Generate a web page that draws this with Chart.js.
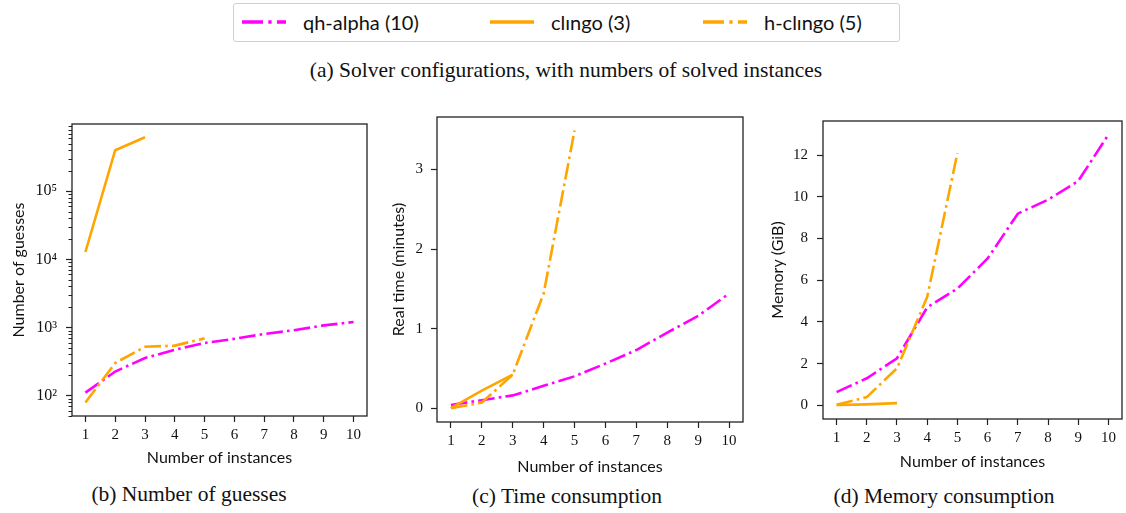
<!DOCTYPE html>
<html>
<head>
<meta charset="utf-8">
<script src="https://cdn.jsdelivr.net/npm/chart.js@4.4.0/dist/chart.umd.min.js"></script>
<style>
	body { margin: 0; width: 1126px; height: 513px; background: #fff; position: relative; overflow: hidden; }
	.abs { position: absolute; }
	#legend { left: 233px; top: 3px; width: 665px; height: 37px; border: 1px solid #d0d0d0; border-radius: 3px; }
	.item { position: absolute; top: 0; height: 36px; display: flex; align-items: center; font-family: Lato, sans-serif; font-size: 20px; color: #111; }
	.item svg { margin-right: 17px; }
	.cap { font-family: "Liberation Serif", serif; font-size: 21.5px; line-height: 24px; color: #111; text-align: center; white-space: nowrap; transform: translateX(-50%); }
</style>
</head>
<body>

<div id="legend" class="abs">
	<div class="item" style="left:8px"><svg width="44" height="8"><line x1="0" y1="4" x2="44" y2="4" stroke="#ff00ff" stroke-width="3.3" stroke-dasharray="21 5.3 3.3 5.3"/></svg>qh-alpha (10)</div>
	<div class="item" style="left:256px"><svg width="44" height="8"><line x1="0" y1="4" x2="44" y2="4" stroke="#ffa500" stroke-width="3.3"/></svg>clıngo (3)</div>
	<div class="item" style="left:469px"><svg width="44" height="8"><line x1="0" y1="4" x2="44" y2="4" stroke="#ffa500" stroke-width="3.3" stroke-dasharray="21 5.3 3.3 5.3"/></svg>h-clıngo (5)</div>
</div>
<div class="abs cap" style="left:566px; top:58px">(a) Solver configurations, with numbers of solved instances</div>

<div class="abs" style="left:0px; top:110px; width:372px; height:362px"><canvas id="chartGuesses"></canvas></div>
<div class="abs" style="left:380px; top:105px; width:368px; height:375px"><canvas id="chartTime"></canvas></div>
<div class="abs" style="left:750px; top:110px; width:376px; height:365px"><canvas id="chartMem"></canvas></div>

<div class="abs cap" style="left:189px; top:482px">(b) Number of guesses</div>
<div class="abs cap" style="left:567px; top:484px">(c) Time consumption</div>
<div class="abs cap" style="left:944px; top:484px">(d) Memory consumption</div>

<script>
	// data
	var instances = [1, 2, 3, 4, 5, 6, 7, 8, 9, 10];
	var xTicks = [1, 2, 3, 4, 5, 6, 7, 8, 9, 10];

	var guessesQh = [110, 225, 355, 470, 590, 680, 800, 910, 1070, 1200];
	var guessesClingo = [12800, 400000, 620000];
	var guessesHClingo = [79, 300, 520, 540, 690];
	var guessTicks = [100, 1000, 10000, 100000];
	var guessTickLabels = ['10²', '10³', '10⁴', '10⁵'];

	var timeQh = [0.04, 0.1, 0.16, 0.28, 0.4, 0.56, 0.73, 0.95, 1.16, 1.44];
	var timeClingo = [0, 0.22, 0.42];
	var timeHClingo = [0, 0.07, 0.42, 1.44, 3.49];
	var timeTicks = [0, 1, 2, 3];

	var memQh = [0.64, 1.3, 2.26, 4.7, 5.6, 7.04, 9.19, 9.86, 10.75, 12.98];
	var memClingo = [0.02, 0.05, 0.11];
	var memHClingo = [0.03, 0.4, 1.78, 5.2, 12.1];
	var memTicks = [0, 2, 4, 6, 8, 10, 12];

	var magenta = '#ff00ff';
	var orange = '#ffa500';
	var dashDot = [16.6, 4.2, 2.6, 4.2];
	var serif = 'Liberation Serif';
	var sans = 'Lato';

	function points(ys) {
		return ys.map(function(y, i) {
			return { x: instances[i], y: y };
		});
	}

	function datasets(qh, cl, hcl) {
		return [
			{ label: 'qh-alpha (10)', data: points(qh), borderColor: magenta, borderDash: dashDot, order: 3 },
			{ label: 'clıngo (3)', data: points(cl), borderColor: orange, order: 2 },
			{ label: 'h-clıngo (5)', data: points(hcl), borderColor: orange, borderDash: dashDot, order: 1 }
		];
	}

	// box round the plot area, and short minor ticks on the log axis
	var frame = {
		id: 'frame',
		afterDraw: function(chart) {
			var a = chart.chartArea, c = chart.ctx;
			c.save();
			c.strokeStyle = '#222';
			c.lineWidth = 1.3;
			c.strokeRect(a.left, a.top, a.right - a.left, a.bottom - a.top);
			var y = chart.scales.y;
			if (y.type === 'logarithmic') {
				c.lineWidth = 1;
				y.ticks.forEach(function(t) {
					if (guessTicks.indexOf(t.value) < 0) {
						var py = Math.round(y.getPixelForValue(t.value)) + 0.5;
						c.beginPath();
						c.moveTo(a.left, py);
						c.lineTo(a.left - 3.5, py);
						c.stroke();
					}
				});
			}
			c.restore();
		}
	};

	function makeChart(id, sets, yOpt, box) {
		var xScale = {
			type: 'linear',
			min: 0.55,
			max: 10.45,
			afterBuildTicks: function(s) {
				s.ticks = xTicks.map(function(v) { return { value: v }; });
			},
			afterFit: function(s) {
				s.height = box.xh;
				s.paddingLeft = 0;
				s.paddingRight = 0;
			},
			grid: { drawOnChartArea: false, tickLength: 6, tickColor: '#222', tickWidth: 1.2 },
			border: { display: false },
			ticks: { color: '#111', font: { family: serif, size: 15 }, padding: 4, maxRotation: 0, autoSkip: false },
			title: { display: true, text: 'Number of instances', color: '#111', font: { family: sans, size: 16 }, padding: { top: 0, bottom: box.xtp } }
		};
		var yScale = Object.assign({
			afterFit: function(s) {
				s.width = box.yw;
				s.paddingTop = 0;
				s.paddingBottom = 0;
			},
			border: { display: false },
			title: { display: true, text: box.ytitle, color: '#111', font: { family: sans, size: 16 }, padding: { top: box.ytp, bottom: 0 } }
		}, yOpt);
		yScale.ticks = Object.assign({ color: '#111', font: { family: serif, size: 15 }, padding: box.ylp, autoSkip: false }, yOpt.ticks);

		return new Chart(document.getElementById(id), {
			type: 'line',
			data: { datasets: sets },
			options: {
				responsive: true,
				maintainAspectRatio: false,
				animation: false,
				layout: { padding: { top: box.pt, right: box.pr, left: 0, bottom: 0 } },
				elements: {
					line: { borderWidth: 2.6, tension: 0, borderCapStyle: 'butt', fill: false },
					point: { radius: 0 }
				},
				plugins: { legend: { display: false }, tooltip: { enabled: false } },
				scales: { x: xScale, y: yScale }
			},
			plugins: [frame]
		});
	}

	makeChart('chartGuesses', datasets(guessesQh, guessesClingo, guessesHClingo), {
		type: 'logarithmic',
		min: 50,
		max: 970000,
		afterBuildTicks: function(s) {
			var list = [];
			for (var e = 1; e <= 5; e++) {
				for (var m = 1; m <= 9; m++) {
					var v = m * Math.pow(10, e);
					if (v >= s.min && v <= s.max) list.push({ value: v });
				}
			}
			s.ticks = list;
		},
		grid: {
			drawOnChartArea: false, tickLength: 6, tickWidth: 1.2,
			tickColor: function(ctx) {
				return ctx.tick && guessTicks.indexOf(ctx.tick.value) >= 0 ? '#222' : 'rgba(0,0,0,0)';
			}
		},
		ticks: {
			font: { family: serif, size: 16 },
			callback: function(v) {
				var i = guessTicks.indexOf(v);
				return i >= 0 ? guessTickLabels[i] : '';
			}
		}
	}, { xh: 56, yw: 72, pt: 14, pr: 5, xtp: 5, ytp: 9, ylp: 9, ytitle: 'Number of guesses' });

	makeChart('chartTime', datasets(timeQh, timeClingo, timeHClingo), {
		type: 'linear',
		min: -0.1745,
		max: 3.66,
		afterBuildTicks: function(s) {
			s.ticks = timeTicks.map(function(v) { return { value: v }; });
		},
		grid: { drawOnChartArea: false, tickLength: 6, tickColor: '#222', tickWidth: 1.2 },
		ticks: {}
	}, { xh: 58, yw: 57, pt: 12, pr: 5, xtp: 4, ytp: 9, ylp: 8, ytitle: 'Real time (minutes)' });

	makeChart('chartMem', datasets(memQh, memClingo, memHClingo), {
		type: 'linear',
		min: -0.65,
		max: 13.63,
		afterBuildTicks: function(s) {
			s.ticks = memTicks.map(function(v) { return { value: v }; });
		},
		grid: { drawOnChartArea: false, tickLength: 6, tickColor: '#222', tickWidth: 1.2 },
		ticks: {}
	}, { xh: 56, yw: 73, pt: 11, pr: 4, xtp: 4, ytp: 18, ylp: 9, ytitle: 'Memory (GiB)' });
</script>
</body>
</html>
